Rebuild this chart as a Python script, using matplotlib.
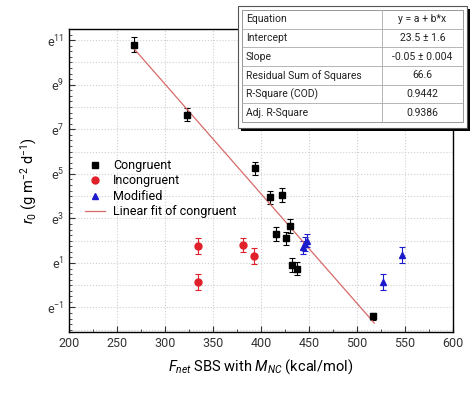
import numpy as np
import matplotlib
matplotlib.use("Agg")
import matplotlib.pyplot as plt
from matplotlib.lines import Line2D
from matplotlib.patches import Rectangle
from matplotlib.ticker import MultipleLocator, FuncFormatter

plt.rcParams["font.family"] = ["Roboto", "DejaVu Sans"]
plt.rcParams["mathtext.fontset"] = "custom"
plt.rcParams["mathtext.rm"] = "Roboto"
plt.rcParams["mathtext.it"] = "Roboto:italic"

# ln(r0) values
cong_x   = [268, 323, 394, 409, 422, 430, 416, 426, 432, 438, 517]
cong_y   = [10.8, 7.65, 5.25, 3.95, 4.05, 2.65, 2.3, 2.1, 0.9, 0.75, -1.4]
cong_err = [0.35, 0.3, 0.3, 0.3, 0.3, 0.3, 0.3, 0.3, 0.3, 0.3, 0.15]

inc_x   = [334, 334, 381, 393]
inc_y   = [1.75, 0.15, 1.8, 1.3]
inc_err = [0.35, 0.35, 0.3, 0.35]

mod_x   = [444, 448, 446, 527, 547]
mod_y   = [1.7, 2.0, 1.85, 0.15, 1.35]
mod_err = [0.3, 0.3, 0.3, 0.35, 0.35]

fit_x = [268, 518]
fit_y = [10.6, -1.7]

table_rows = [
    ("Equation", "y = a + b*x"),
    ("Intercept", "23.5 \u00b1 1.6"),
    ("Slope", "-0.05 \u00b1 0.004"),
    ("Residual Sum of Squares", "66.6"),
    ("R-Square (COD)", "0.9442"),
    ("Adj. R-Square", "0.9386"),
]

W, H = 475, 393
fig = plt.figure(figsize=(W / 100, H / 100), dpi=100)
ax = fig.add_axes([69 / W, 1 - 332 / H, (453 - 69) / W, (332 - 29) / H])

ax.grid(True, which="major", axis="x", color="#cfcfcf", linestyle=":", linewidth=0.8)
for lv in range(-2, 12):
    ax.axhline(lv, color="#cfcfcf", linestyle=":", linewidth=0.8, zorder=0)

ebkw = dict(linestyle="none", capsize=2.5, elinewidth=0.8, capthick=0.8, markersize=5)
ax.errorbar(cong_x, cong_y, yerr=cong_err, marker="s", color="black", **ebkw)
ax.errorbar(inc_x, inc_y, yerr=inc_err, marker="o", color="#e0202a", ecolor="#e0202a", **ebkw)
ax.errorbar(mod_x, mod_y, yerr=mod_err, marker="^", color="#1c1ccc", ecolor="#1c1ccc", **ebkw)
ax.plot(fit_x, fit_y, color="#d86a6a", linewidth=0.9)

ax.set_xlim(200, 600)
ax.set_ylim(-2.1, 11.5)
ax.xaxis.set_major_locator(MultipleLocator(50))
ax.xaxis.set_minor_locator(MultipleLocator(25))
ax.set_yticks(np.arange(-1, 12, 2))
ax.yaxis.set_minor_locator(MultipleLocator(0.25))
ax.yaxis.set_major_formatter(FuncFormatter(lambda v, p: "e$^{%d}$" % int(round(v))))
ax.tick_params(which="both", direction="in", labelsize=9, colors="#333333")
ax.tick_params(which="major", length=4)
ax.tick_params(which="minor", length=2)
for s in ax.spines.values():
    s.set_linewidth(1.0)

ax.set_xlabel("$F_{net}$ SBS with $M_{NC}$ (kcal/mol)", fontsize=10.5, labelpad=5)
ax.set_ylabel("$r_0$ (g m$^{-2}$ d$^{-1}$)", fontsize=10.5, labelpad=6)

handles = [
    Line2D([], [], marker="s", color="black", linestyle="none", markersize=5),
    Line2D([], [], marker="o", color="#e0202a", linestyle="none", markersize=5),
    Line2D([], [], marker="^", color="#1c1ccc", linestyle="none", markersize=5),
    Line2D([], [], color="#d86a6a", linewidth=0.9),
]
labels = ["Congruent", "Incongruent", "Modified", "Linear fit of congruent"]
ax.legend(handles, labels, loc="upper left", bbox_to_anchor=(0.02, 0.6),
          frameon=False, fontsize=9, handlelength=1.6, handletextpad=0.6,
          labelspacing=0.2, borderaxespad=0.3)

# fit parameter table (top right)
tx0, ty0, tx1, ty1 = 238, 6, 467, 128
tax = fig.add_axes([0, 0, 1, 1], facecolor="none")
tax.set_xlim(0, W)
tax.set_ylim(H, 0)
tax.axis("off")
tax.add_patch(Rectangle((tx0 + 3, ty0 + 3), tx1 - tx0, ty1 - ty0, facecolor="black", edgecolor="none"))
tax.add_patch(Rectangle((tx0, ty0), tx1 - tx0, ty1 - ty0, facecolor="white", edgecolor="#555555", linewidth=0.8))
rx0, ry0, rx1, ry1 = tx0 + 4, ty0 + 4, tx1 - 4, ty1 - 6
tax.add_patch(Rectangle((rx0, ry0), rx1 - rx0, ry1 - ry0, facecolor="white", edgecolor="#888888", linewidth=0.6))
rh = (ry1 - ry0) / len(table_rows)
colx = 382
tax.plot([colx, colx], [ry0, ry1], color="#aaaaaa", linewidth=0.6)
for i, (k, v) in enumerate(table_rows):
    yc = ry0 + rh * (i + 0.5)
    if i > 0:
        tax.plot([rx0, rx1], [ry0 + rh * i] * 2, color="#aaaaaa", linewidth=0.6)
    tax.text(rx0 + 4, yc, k, fontsize=7.5, va="center", ha="left", color="#222222")
    tax.text((colx + rx1) / 2, yc, v, fontsize=7.5, va="center", ha="center", color="#222222")

fig.savefig("out.png", dpi=100)
